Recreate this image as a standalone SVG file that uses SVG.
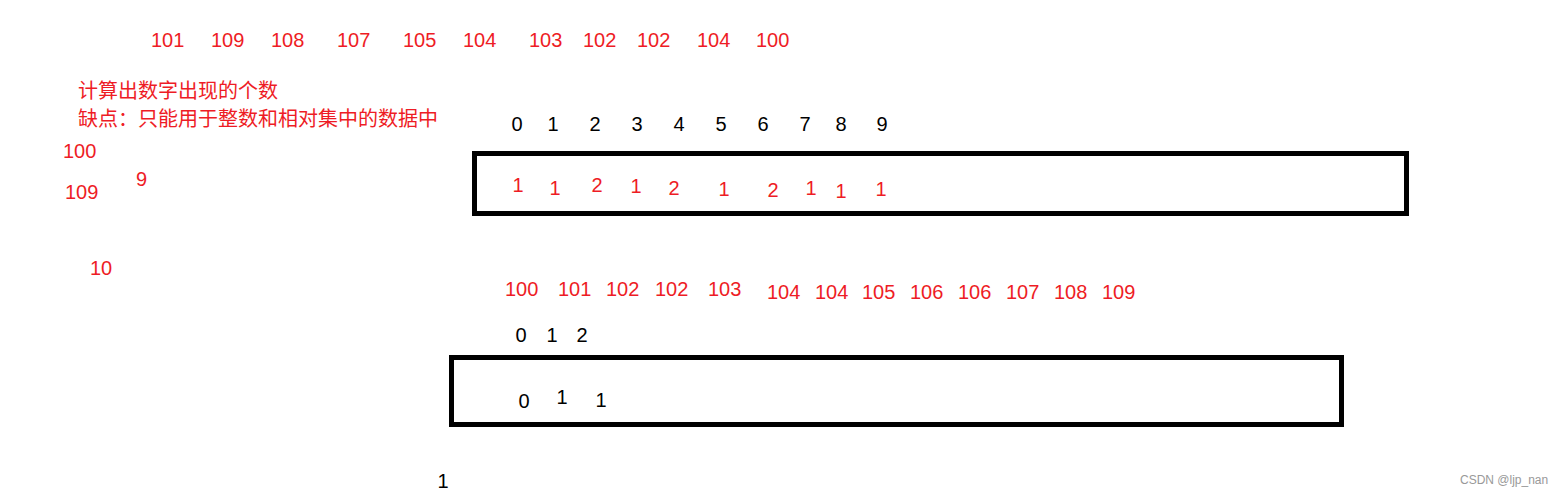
<svg xmlns="http://www.w3.org/2000/svg" width="1563" height="496" viewBox="0 0 1563 496">
<style>
.r{fill:#ee1c25;font-family:"Liberation Sans","Noto Sans CJK SC",sans-serif;font-size:20px}
.k{fill:#000;font-family:"Liberation Sans",sans-serif;font-size:20px}
.m{text-anchor:middle}
.box{fill:none;stroke:#000;stroke-width:5}
.zh{fill:#ee1c25;font-family:"Noto Sans CJK SC",sans-serif;font-size:20px}
</style>
<rect width="1563" height="496" fill="#fff"/>
<g id="input-list">
<text class="r" x="151" y="47">101</text>
<text class="r" x="211" y="47">109</text>
<text class="r" x="271" y="47">108</text>
<text class="r" x="337" y="47">107</text>
<text class="r" x="403" y="47">105</text>
<text class="r" x="463" y="47">104</text>
<text class="r" x="529" y="47">103</text>
<text class="r" x="583" y="47">102</text>
<text class="r" x="637" y="47">102</text>
<text class="r" x="697" y="47">104</text>
<text class="r" x="756" y="47">100</text>
</g>
<g id="notes">
<text class="zh" x="78" y="98">计算出数字出现的个数</text>
<text class="zh" x="78" y="126">缺点：只能用于整数和相对集中的数据中</text>
<text class="r" x="63" y="158">100</text>
<text class="r" x="65" y="199">109</text>
<text class="r" x="136" y="186">9</text>
<text class="r" x="90" y="275">10</text>
</g>
<g id="count-array">
<text class="k m" x="517" y="131">0</text>
<text class="k m" x="553" y="131">1</text>
<text class="k m" x="595" y="131">2</text>
<text class="k m" x="637" y="131">3</text>
<text class="k m" x="679" y="131">4</text>
<text class="k m" x="721" y="131">5</text>
<text class="k m" x="763" y="131">6</text>
<text class="k m" x="805" y="131">7</text>
<text class="k m" x="841" y="131">8</text>
<text class="k m" x="882" y="131">9</text>
<rect class="box" x="474.5" y="153.5" width="932" height="60"/>
<text class="r m" x="518" y="192">1</text>
<text class="r m" x="555" y="195">1</text>
<text class="r m" x="597" y="192">2</text>
<text class="r m" x="636" y="193">1</text>
<text class="r m" x="674" y="195">2</text>
<text class="r m" x="724" y="196">1</text>
<text class="r m" x="773" y="197">2</text>
<text class="r m" x="811" y="195">1</text>
<text class="r m" x="841" y="198">1</text>
<text class="r m" x="881" y="196">1</text>
</g>
<g id="sorted-list">
<text class="r" x="505" y="296">100</text>
<text class="r" x="558" y="296">101</text>
<text class="r" x="606" y="296">102</text>
<text class="r" x="655" y="296">102</text>
<text class="r" x="708" y="296">103</text>
<text class="r" x="767" y="299">104</text>
<text class="r" x="815" y="299">104</text>
<text class="r" x="862" y="299">105</text>
<text class="r" x="910" y="299">106</text>
<text class="r" x="958" y="299">106</text>
<text class="r" x="1006" y="299">107</text>
<text class="r" x="1054" y="299">108</text>
<text class="r" x="1102" y="299">109</text>
</g>
<g id="offset-array">
<text class="k m" x="521" y="342">0</text>
<text class="k m" x="552" y="342">1</text>
<text class="k m" x="582" y="342">2</text>
<rect class="box" x="451.5" y="357.5" width="890" height="67"/>
<text class="k m" x="524" y="408">0</text>
<text class="k m" x="562" y="404">1</text>
<text class="k m" x="601" y="407">1</text>
</g>
<g id="misc">
<text class="k m" x="443" y="488">1</text>
<text x="1460" y="484" style="fill:#999;font-family:'Liberation Sans',sans-serif;font-size:12px">CSDN @ljp_nan</text>
</g>
<g id="connectors"></g>
</svg>
